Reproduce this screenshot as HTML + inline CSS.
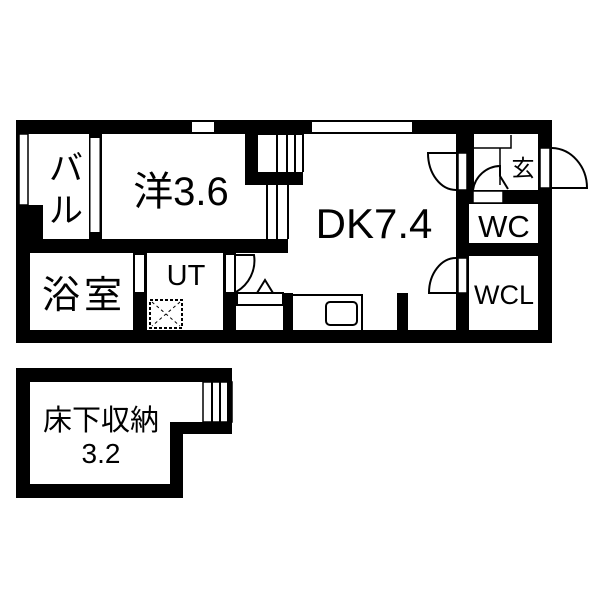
<!DOCTYPE html>
<html><head><meta charset="utf-8"><style>
html,body{margin:0;padding:0;background:#fff;}
svg{display:block}
text{font-family:"Liberation Sans","Noto Sans CJK JP",sans-serif;fill:#000}
</style></head><body>
<svg width="600" height="600" viewBox="0 0 600 600" xmlns="http://www.w3.org/2000/svg">
<rect x="16" y="120" width="536" height="14" fill="#000"/>
<rect x="16" y="330" width="536" height="13" fill="#000"/>
<rect x="538" y="120" width="14" height="223" fill="#000"/>
<rect x="16" y="120" width="3" height="223" fill="#000"/>
<rect x="16" y="205" width="27" height="35" fill="#000"/>
<rect x="16" y="240" width="14" height="103" fill="#000"/>
<rect x="19" y="134" width="9" height="71" fill="#fff" stroke="#000" stroke-width="1.5"/>
<rect x="192" y="122" width="22" height="10" fill="#fff"/>
<rect x="312" y="122" width="100" height="10" fill="#fff"/>
<rect x="89" y="134" width="13" height="105" fill="#000"/>
<rect x="90.5" y="138" width="9" height="94" fill="#fff"/>
<rect x="16" y="239" width="272" height="14" fill="#000"/>
<rect x="245" y="133" width="58" height="52" fill="#000"/>
<rect x="258" y="135" width="45" height="37" fill="#fff"/>
<g stroke="#000" stroke-width="2">
<line x1="277" y1="135" x2="277" y2="172"/><line x1="287" y1="135" x2="287" y2="172"/><line x1="295" y1="135" x2="295" y2="172"/><line x1="303" y1="134" x2="303" y2="172"/>
<line x1="267" y1="185" x2="267" y2="239"/><line x1="277" y1="185" x2="277" y2="239"/><line x1="288" y1="185" x2="288" y2="239"/>
</g>
<rect x="456" y="134" width="13" height="196" fill="#000"/>
<rect x="458" y="153" width="9" height="37" fill="#fff" stroke="#000" stroke-width="1.5"/>
<rect x="458" y="258" width="9" height="35" fill="#fff" stroke="#000" stroke-width="1.5"/>
<path d="M456 153 L428 153 A28 37 0 0 0 456 190" fill="none" stroke="#000" stroke-width="2"/>
<path d="M456 258 A27 35 0 0 0 429 293 L456 293" fill="none" stroke="#000" stroke-width="2"/>
<rect x="469" y="190" width="69" height="14" fill="#000"/>
<rect x="473" y="191" width="30" height="12" fill="#fff" stroke="#000" stroke-width="1.5"/>
<rect x="469" y="243" width="69" height="13" fill="#000"/>
<rect x="469" y="134" width="5" height="56" fill="#000"/>
<path d="M469 148 L511 148 L511 135" fill="none" stroke="#000" stroke-width="1.5"/>
<line x1="500" y1="148" x2="500" y2="185" stroke="#000" stroke-width="1.5"/>
<path d="M473 190 A28 28 0 0 1 500 166 L500 176 L508 189" fill="none" stroke="#000" stroke-width="2"/>
<rect x="540" y="148" width="10" height="40" fill="#fff" stroke="#000" stroke-width="1.5"/>
<path d="M552 148 A36 40 0 0 1 587 188 L552 188" fill="none" stroke="#000" stroke-width="2"/>
<rect x="133" y="253" width="14" height="77" fill="#000"/>
<rect x="135" y="255" width="9" height="37" fill="#fff"/>
<rect x="223" y="253" width="13" height="77" fill="#000"/>
<rect x="226" y="255" width="8" height="37" fill="#fff"/>
<rect x="150" y="300" width="32" height="28" fill="none" stroke="#000" stroke-width="2" stroke-dasharray="3,2"/>
<path d="M152 302 L180 326 M180 302 L152 326" stroke="#000" stroke-width="1" stroke-dasharray="3,3"/>
<path d="M236 292 A36 36 0 0 0 254 255 L236 255" fill="none" stroke="#000" stroke-width="2"/>
<path d="M257 293 L265 280 L273 293" fill="none" stroke="#000" stroke-width="2"/>
<rect x="237" y="293" width="46" height="12" fill="#fff" stroke="#000" stroke-width="2"/>
<rect x="283" y="293" width="10" height="37" fill="#000"/>
<path d="M293 295 L362 295 L362 330" fill="none" stroke="#000" stroke-width="2"/>
<rect x="326" y="302" width="31" height="23" rx="4" fill="none" stroke="#000" stroke-width="2"/>
<rect x="397" y="293" width="11" height="37" fill="#000"/>
<path d="M16 368 L232 368 L232 434 L183 434 L183 498 L16 498 Z M30 382 L30 484 L170 484 L170 422 L232 422 L232 382 Z" fill="#000" fill-rule="evenodd"/>
<rect x="203" y="382" width="29" height="40" fill="#fff" stroke="#000" stroke-width="1.5"/>
<g stroke="#000" stroke-width="2"><line x1="212" y1="382" x2="212" y2="422"/><line x1="220" y1="382" x2="220" y2="422"/><line x1="228" y1="382" x2="228" y2="422"/></g>
<rect x="228" y="368" width="4" height="66" fill="#000"/>
<text x="66" y="180" font-size="34" text-anchor="middle">バ</text>
<text x="66" y="222" font-size="34" text-anchor="middle">ル</text>
<text x="181" y="205" font-size="40" text-anchor="middle">洋3.6</text>
<text x="84" y="308" font-size="38" text-anchor="middle" letter-spacing="4">浴室</text>
<text x="186" y="285" font-size="29" text-anchor="middle">UT</text>
<text x="374" y="238" font-size="42" text-anchor="middle">DK7.4</text>
<text x="523" y="176" font-size="23" text-anchor="middle">玄</text>
<text x="504" y="237" font-size="31" text-anchor="middle">WC</text>
<text x="504" y="304" font-size="27" text-anchor="middle">WCL</text>
<text x="101" y="430" font-size="29" text-anchor="middle">床下収納</text>
<text x="101" y="463" font-size="28" text-anchor="middle">3.2</text>
</svg>
</body></html>
